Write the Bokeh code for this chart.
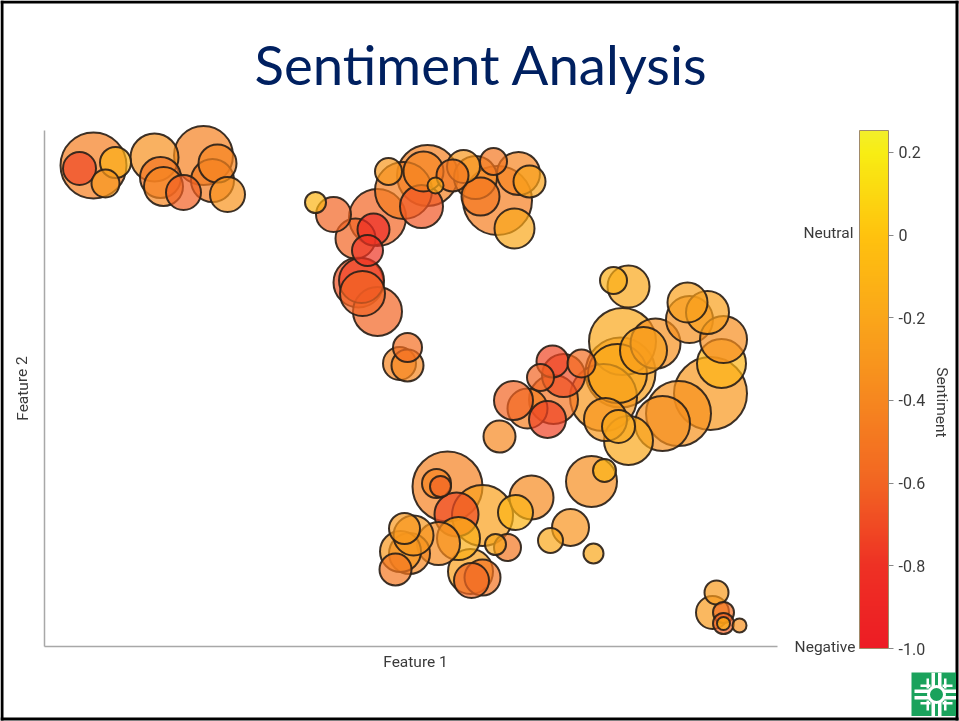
from bokeh.plotting import figure
from bokeh.models import (ColumnDataSource, LinearColorMapper, ColorBar, FixedTicker,
                          Range1d, Label, CustomJSTickFormatter, AllLabels, BoxAnnotation)
from bokeh.embed import file_html
from bokeh.resources import INLINE

title_text = "Sentiment Analysis"
x_label = "Feature 1"
y_label = "Feature 2"
bar_label = "Sentiment"
neutral_label = "Neutral"
negative_label = "Negative"
bar_ticks = [0.2, 0, -0.2, -0.4, -0.6, -0.8, -1.0]

# Cluster by cluster: feature position, bubble diameter, sentiment
a_x = [49, 35, 71, 61, 110, 116, 119, 139, 159, 173, 168, 183]
a_y = [481, 478, 484, 463, 489, 469, 460, 454, 491, 483, 466, 452]
a_d = [66, 33, 31, 28, 48, 41, 39, 35, 59, 38, 43, 35]
a_s = [-.46, -.72, -.14, -.3, -.34, -.52, -.42, -.62, -.44, -.42, -.48, -.32]

b_x = [271, 289, 333, 311, 329, 323, 314, 317, 318, 333, 363, 355, 363,
       344, 359, 383, 379, 377, 391, 408, 419, 431, 436, 449, 453, 474, 485, 470]
b_y = [444, 432, 429, 408, 417, 396, 364, 366, 353, 335, 299, 283, 281,
       475, 456, 471, 475, 440, 461, 471, 480, 469, 450, 485, 446, 473, 465, 418]
b_d = [21, 35, 57, 40, 32, 31, 50, 45, 45, 49, 29, 33, 32,
       27, 57, 61, 40, 43, 16, 32, 33, 43, 38, 27, 69, 43, 32, 40]
b_s = [-.1, -.6, -.6, -.6, -.85, -.78, -.68, -.74, -.6, -.6, -.55, -.42, -.4,
       -.3, -.46, -.44, -.42, -.66, -.18, -.5, -.3, -.38, -.5, -.5, -.46, -.42, -.22, -.2]

c_x = [584, 569, 578, 611, 599, 643, 663, 645, 679, 677, 666, 634, 618, 576, 573, 559, 561, 574, 584,
       508, 519, 537, 496, 469, 483, 509, 503, 455]
c_y = [360, 366, 305, 303, 296, 344, 334, 327, 307, 283, 253, 233, 223, 274, 273, 249, 227, 220, 206,
       285, 271, 283, 269, 246, 238, 247, 227, 210]
c_d = [42, 27, 67, 50, 47, 40, 43, 47, 47, 49, 73, 65, 55, 70, 59, 67, 43, 33, 49,
       32, 43, 28, 27, 39, 40, 49, 37, 32]
c_s = [-.2, -.14, -.2, -.34, -.24, -.25, -.25, -.34, -.36, -.1, -.3, -.33, -.34, -.25, -.2, -.3, -.3, -.2, -.2,
       -.72, -.7, -.55, -.6, -.6, -.45, -.52, -.74, -.4]

d_x = [403, 392, 396, 412, 438, 487, 471, 547, 560, 526, 506, 549,
       451, 463, 414, 394, 360, 365, 356, 369, 351, 426, 438, 427]
d_y = [160, 163, 160, 132, 131, 149, 134, 165, 176, 119, 106, 93,
       102, 99, 108, 103, 118, 93, 95, 111, 77, 75, 69, 66]
d_d = [70, 29, 21, 44, 61, 44, 35, 51, 23, 37, 25, 20,
       21, 27, 43, 43, 31, 41, 41, 40, 32, 45, 36, 35]
d_s = [-.44, -.42, -.6, -.7, -.24, -.38, -.1, -.36, -.1, -.32, -.2, -.2,
       -.2, -.5, -.14, -.38, -.3, -.4, -.3, -.3, -.5, -.24, -.52, -.58]

e_x = [672, 668, 679, 679, 679, 695]
e_y = [54, 34, 34, 23, 23, 21]
e_d = [24, 33, 21, 21, 13, 14]
e_s = [-.28, -.28, -.55, -.62, -.1, -.34]

feature1 = a_x + b_x + c_x + d_x + e_x
feature2 = a_y + b_y + c_y + d_y + e_y
diameter = a_d + b_d + c_d + d_d + e_d
sentiment = a_s + b_s + c_s + d_s + e_s

feature1_view = (-44, 915)
feature2_view = (-75, 646)
axis1_bounds = (0, 733)
axis2_bounds = (0, 516)
bar_range = (-1.0, 0.253)

stops = [(-1.0, "#ed1c24"), (-0.8, "#ee3124"), (-0.6, "#f26522"), (-0.4, "#f6871f"),
         (-0.2, "#faa61a"), (0.0, "#ffc20e"), (0.2, "#f8ed13"), (0.253, "#f3ee2a")]


def build_palette(n=256):
    out = []
    for i in range(n):
        v = bar_range[0] + (bar_range[1] - bar_range[0]) * i / (n - 1)
        for (a, ca), (b, cb) in zip(stops, stops[1:]):
            if v <= b or b == stops[-1][0]:
                t = min(1, max(0, (v - a) / (b - a)))
                rgb = [round(int(ca[k:k + 2], 16) * (1 - t) + int(cb[k:k + 2], 16) * t) for k in (1, 3, 5)]
                out.append("#%02x%02x%02x" % tuple(rgb))
                break
    return out


W, H = 959, 721
p = figure(width=W, height=H, output_backend="svg", toolbar_location=None,
           x_range=Range1d(*feature1_view), y_range=Range1d(*feature2_view),
           min_border=0, background_fill_color="white", border_fill_color="white")
p.styles = {"position": "fixed", "left": "0px", "top": "0px"}
p.grid.visible = False
p.outline_line_color = None

for ax, bounds in ((p.xaxis[0], axis1_bounds), (p.yaxis[0], axis2_bounds)):
    ax.fixed_location = 0
    ax.bounds = bounds
    ax.axis_line_color = "#a8a8a8"
    ax.axis_line_width = 1.5
    ax.major_tick_line_color = None
    ax.minor_tick_line_color = None
    ax.major_tick_in = 0
    ax.major_tick_out = 0
    ax.major_label_standoff = 0
    ax.major_label_text_font_size = "0px"
    ax.major_label_text_color = None
    ax.ticker = FixedTicker(ticks=[])

# Large bubbles first, so that the small ones sit on top of them
order = sorted(range(len(diameter)), key=lambda i: -diameter[i])
mapper = LinearColorMapper(palette=build_palette(), low=bar_range[0], high=bar_range[1])
src = ColumnDataSource(dict(x=[feature1[i] for i in order], y=[feature2[i] for i in order],
                            d=[diameter[i] for i in order], s=[sentiment[i] for i in order]))
p.scatter("x", "y", size="d", source=src, marker="circle",
          fill_color={"field": "s", "transform": mapper}, fill_alpha=0.7,
          line_color="#2b2118", line_alpha=0.92, line_width=2)

bar = ColorBar(color_mapper=mapper, width=29, height=518, margin=0, padding=0,
               ticker=FixedTicker(ticks=bar_ticks),
               formatter=CustomJSTickFormatter(code="return tick === 0 ? '0' : tick.toFixed(1);"),
               major_label_policy=AllLabels(),
               major_label_text_font="Roboto", major_label_text_font_size="16px",
               major_label_text_color="#3a3a3a",
               major_tick_in=0, major_tick_out=5, major_tick_line_color="#888888",
               bar_line_color="#a08a6a", bar_line_width=1, location=(859, 73))
p.add_layout(bar, "center")


def text(x, y, s, size, color="#3a3a3a", font="Roboto", **kw):
    p.add_layout(Label(x=x, y=H - y, x_units="screen", y_units="screen", text=s,
                       text_font=font, text_font_size=size, text_color=color, **kw))


text(481, 63, title_text, "54.5px", "#002060", "Lato", text_align="center", text_baseline="middle")
text(853, 232, neutral_label, "15.5px", text_align="right", text_baseline="middle")
text(855, 646, negative_label, "15.5px", text_align="right", text_baseline="middle")
text(941, 402, bar_label, "15.5px", text_align="center", text_baseline="middle", angle=-1.5708)
text(415, 661, x_label, "15.5px", text_align="center", text_baseline="middle")
text(22, 388, y_label, "15.5px", text_align="center", text_baseline="middle", angle=1.5708)

# Slide frame
for l, r, b, t in [(0, 958, 0, 3), (0, 958, 717, 720), (0, 3, 0, 720), (955, 958, 0, 720)]:
    p.add_layout(BoxAnnotation(left=l, right=r, bottom=H - t, top=H - b, left_units="screen", right_units="screen",
                               bottom_units="screen", top_units="screen", fill_color="black", fill_alpha=1,
                               line_color=None))

# Logo, as its own small figure over the corner of the slide
strip_left = [-5, 1.5, -5, 1.5, -22, -22, 6, 6, -10, 7.5, -10, 7.5, -16, -16, 6, 6]
strip_right = [-1.5, 5, -1.5, 5, -6, -6, 22, 22, -7.5, 10, -7.5, 10, -6, -6, 16, 16]
strip_bottom = [6, 6, -22, -22, 1.5, -5, 1.5, -5, 6, 6, -16, -16, 7.5, -10, 7.5, -10]
strip_top = [22, 22, -6, -6, 5, -1.5, 5, -1.5, 16, 16, -6, -6, 10, -7.5, 10, -7.5]

logo = figure(width=45, height=44, output_backend="svg", toolbar_location=None,
              x_range=Range1d(-25, 20), y_range=Range1d(-22, 22),
              min_border=0, background_fill_color="#1aa25c", border_fill_color="#1aa25c")
logo.styles = {"position": "fixed", "left": "911px", "top": "672px"}
logo.axis.visible = False
logo.grid.visible = False
logo.outline_line_color = None
logo.quad(left=strip_left, right=strip_right, bottom=strip_bottom, top=strip_top,
          fill_color="white", line_color=None)
logo.scatter([0], [0], size=16, marker="circle", fill_color="#1aa25c", line_color="white", line_width=3)

open("out.html", "w").write(file_html((p, logo), INLINE))
